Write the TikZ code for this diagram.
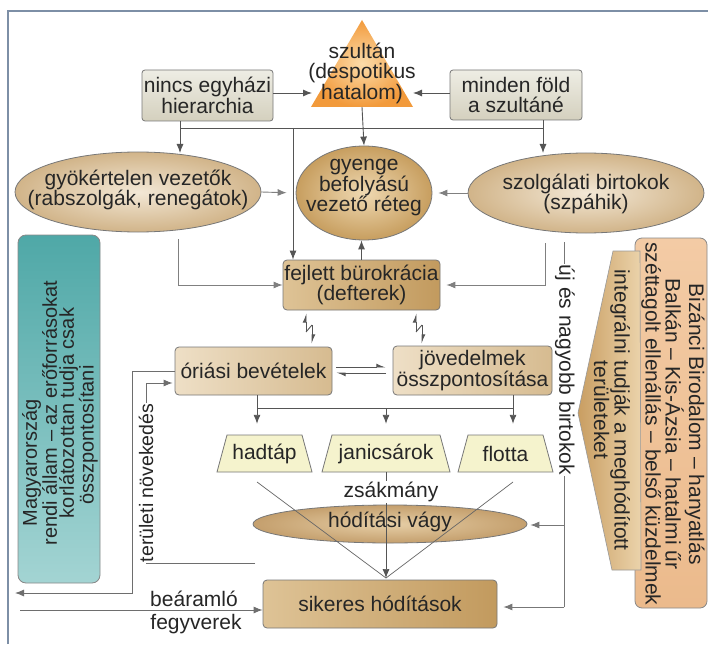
\documentclass[tikz,border=0pt]{standalone}
\usepackage{fontspec}
\setmainfont{Liberation Sans}
\usetikzlibrary{shapes.geometric,arrows.meta}
\definecolor{linec}{HTML}{555555}
\definecolor{txtc}{HTML}{262626}
\definecolor{framec}{HTML}{7D8FA6}
\definecolor{grayT}{HTML}{EEEDE4}
\definecolor{grayB}{HTML}{D4D0BE}
\definecolor{tanLT}{HTML}{EEDFC6}
\definecolor{tanLB}{HTML}{D6BB90}
\definecolor{tanDT}{HTML}{DEC396}
\definecolor{tanDB}{HTML}{C29A5E}
\definecolor{ellIn}{HTML}{F3E8D6}
\definecolor{ellOut}{HTML}{D1B489}
\definecolor{gyIn}{HTML}{EFD9B2}
\definecolor{gyOut}{HTML}{C79E5F}
\definecolor{hoIn}{HTML}{E6CEA6}
\definecolor{hoOut}{HTML}{C49F6D}
\definecolor{trapc}{HTML}{F5F3CD}
\definecolor{tealT}{HTML}{4FA8A7}
\definecolor{tealB}{HTML}{A3D4D3}
\definecolor{peachT}{HTML}{F3CBA5}
\definecolor{peachB}{HTML}{EBBA8C}
\definecolor{ptL}{HTML}{C99E62}
\definecolor{ptR}{HTML}{EBD3AB}
\definecolor{triIn}{HTML}{FCDCAA}
\definecolor{triOut}{HTML}{F29A3B}
\newcommand\fs{\fontsize{21}{20.5}\selectfont}
\begin{document}
\begin{tikzpicture}[x=1pt,y=-1pt,
  txt/.style={font=\fs, align=center, inner sep=0pt, text=txtc},
  ln/.style={draw=linec, line width=0.9pt},
  arr/.style={ln, -{Latex[length=9pt,width=7pt]}},
  hp/.style={ln, -{Latex[harpoon,length=8pt,width=7pt]}},
  graybox/.style={txt, draw=linec!80, line width=0.8pt, rounded corners=3pt, top color=grayT, bottom color=grayB},
  tanlight/.style={txt, draw=linec!80, line width=0.8pt, rounded corners=4pt, left color=tanLT, right color=tanLB},
  tandark/.style={txt, draw=linec!80, line width=0.8pt, rounded corners=4pt, left color=tanDT, right color=tanDB},
  ellbase/.style={ellipse, draw=linec!80, line width=0.8pt, inner sep=0pt},
  trapbox/.style={txt, minimum height=37pt},
  trapfill/.style={draw=linec!80, line width=0.8pt, fill=trapc}
]
\useasboundingbox (0,0) rectangle (708,644);
\fill[white] (0,0) rectangle (708,644);
\draw[framec, line width=1.6pt] (8,644) -- (8,11) -- (708,11);

% top row
\shade[inner color=triIn, outer color=triOut] (362,20) -- (413,107) -- (311,107) -- cycle;
\node[txt] (szultan) at (362,73) {szultán\\(despotikus\\hatalom)};
\coordinate (triL) at (312,93);
\coordinate (triR) at (413,93);
\coordinate (triB) at (362,107);
\node[graybox, minimum width=131pt, minimum height=51pt] (nincs) at (207.5,95.5) {nincs egyházi\\hierarchia};
\node[graybox, minimum width=132pt, minimum height=50pt] (minden) at (516,95) {minden föld\\a szultáné};
\draw[arr] (nincs.east |- triL) -- (triL);
\draw[arr] (minden.west |- triR) -- (triR);

% ellipses
\node[ellbase, inner color=ellIn, outer color=ellOut, minimum width=246pt, minimum height=80pt] (gyok) at (138,192) {};
\node[txt] (gyoktxt) at (138,190) {gyökértelen vezetők\\(rabszolgák, renegátok)};
\node[ellbase, inner color=gyIn, outer color=gyOut, minimum width=136pt, minimum height=94pt] (gyenge) at (364,193) {};
\node[txt] (gyengetxt) at (364,188) {gyenge\\befolyású\\vezető réteg};
\node[ellbase, inner color=ellIn, outer color=ellOut, minimum width=236pt, minimum height=80pt] (szolg) at (586,193) {};
\node[txt] (szolgtxt) at (586,194) {szolgálati birtokok\\(szpáhik)};

% bus under top row
\coordinate (busL) at (180,128);
\coordinate (busM) at (293,128);
\coordinate (busR) at (543,128);
\coordinate (gyokN) at (180,153);
\coordinate (szolgN) at (543,153);
\draw[ln] (busL) -- (busR);
\draw[arr] (nincs.south -| busL) -- (gyokN);
\draw[arr] (minden.south -| busR) -- (szolgN);
\draw[arr] (triB) -- (gyenge.north);
\draw[arr, draw=linec!75] (gyok.east) -- (gyenge.west) [shorten >=9pt];
\draw[arr, draw=linec!75, shorten >=6pt] (szolg.west) -- (gyenge.east);

% bureaucracy
\node[tandark, minimum width=157pt, minimum height=50pt] (burok) at (361.5,285) {fejlett bürokrácia\\(defterek)};
\draw[arr] (busM) -- (busM |- burok.north);
\draw[arr] (burok.north) -- (burok.north |- gyenge.south);
\coordinate (gyokS) at (178,239);
\coordinate (szolgS) at (545,243);
\draw[arr, draw=linec!75] (gyokS) -- (gyokS |- burok.west) -- (burok.west);
\draw[arr, draw=linec!75, shorten >=6pt] (szolgS) -- (szolgS |- burok.east) -- (burok.east);

% revenue boxes
\node[tanlight, minimum width=157pt, minimum height=48pt] (oriasi) at (253.5,371) {óriási bevételek};
\node[tanlight, minimum width=159pt, minimum height=49pt] (jov) at (472.5,370.5) {jövedelmek\\összpontosítása};

% zigzag harpoons
\draw[hp] (306,332) -- (306,313);
\draw[ln] (306,332) -- (312,325);
\draw[hp] (312,325) -- (312,344);
\draw[hp] (416,332) -- (416,313);
\draw[ln] (416,332) -- (422,325);
\draw[hp] (422,325) -- (422,344);
\draw[hp] (336,367) -- (386,367);
\draw[hp] (386,373) -- (336,373);

% trapezia (wider at the bottom)
\path[trapfill] (227,435) -- (302,435) -- (312,472) -- (217,472) -- cycle;
\path[trapfill] (332,435) -- (440,435) -- (450,472) -- (322,472) -- cycle;
\path[trapfill] (468,435) -- (543,435) -- (553,472) -- (458,472) -- cycle;
\node[trapbox, minimum width=95pt] (hadtap) at (264.5,453.5) {hadtáp};
\node[trapbox, minimum width=128pt] (janics) at (386,453.5) {janicsárok};
\node[trapbox, minimum width=95pt] (flotta) at (505.5,453.5) {flotta};
\coordinate (bus2L) at (257,408);
\coordinate (bus2M) at (386,408);
\coordinate (bus2R) at (513,408);
\draw[ln] (bus2L) -- (bus2R);
\draw[arr, shorten >=11pt] (oriasi.south -| bus2L) -- (bus2L |- hadtap.north);
\draw[arr, shorten >=11pt] (bus2M) -- (janics.north);
\draw[arr, shorten >=11pt] (jov.south -| bus2R) -- (bus2R |- flotta.north);

% conquest
\node[ellbase, inner color=hoIn, outer color=hoOut, minimum width=274pt, minimum height=38pt] (hodit) at (390,524) {};
\node[txt] (hodittxt) at (390,522) {hódítási vágy};
\node[tandark, minimum width=234pt, minimum height=48pt] (sikeres) at (380,604) {sikeres hódítások};
\coordinate (conv) at (386,578);
\coordinate (hadS) at (257,482);
\coordinate (flotS) at (513,482);
\draw[ln, line width=0.7pt, draw=linec!90] (hadS) -- (conv);
\draw[ln, line width=0.7pt, draw=linec!90] (flotS) -- (conv);
\draw[arr, line width=0.7pt] (janics.south) -- (conv);
\node[txt, fill=white, inner sep=1pt] (zsak) at (391,492) {zsákmány};

% new estates line
\coordinate (ujTop) at (564,242);
\coordinate (ujMid) at (564,525);
\coordinate (ujBot) at (564,607);
\draw[ln, draw=linec!80] (ujTop) -- (ujBot);
\draw[arr, draw=linec!80, shorten >=3pt] (ujMid) -- (ujMid -| hodit.east);
\draw[arr, draw=linec!80, shorten >=6pt] (ujBot) -- (ujBot -| sikeres.east);
\node[txt, fill=white, inner sep=1pt, rotate=-90] (uj) at (565,370) {új és nagyobb birtokok};

% left side
\node[draw=linec!70, line width=0.8pt, rounded corners=8pt, top color=tealT, bottom color=tealB, minimum width=82pt, minimum height=348pt, inner sep=0pt] (magy) at (59,409) {};
\node[txt, rotate=90, font=\fontsize{20}{17}\selectfont] (magytxt) at (60,413) {Magyarország\rule{100pt}{0pt}\\rendi állam – az erőforrásokat\\korlátozottan tudja csak\\összpontosítani\rule{44pt}{0pt}};
\coordinate (outL) at (132,371);
\coordinate (outB) at (132,593);
\coordinate (outEnd) at (15,593);
\draw[arr, draw=linec!85] (oriasi.west |- outL) -- (outL) -- (outB) -- (outEnd);
\coordinate (terStart) at (255,563);
\coordinate (terCorner) at (146,563);
\coordinate (terTop) at (146,383);
\draw[arr, draw=linec!85] (terStart) -- (terCorner) -- (terTop) -- (terTop -| oriasi.west) [shorten >=2pt];
\node[txt, fill=white, inner sep=1pt, rotate=90, font=\fontsize{19.5}{19.5}\selectfont] (terul) at (146,483) {területi növekedés};
\coordinate (bStart) at (20,610);
\draw[arr, draw=linec!85] (bStart) -- (bStart -| sikeres.west);
\node[txt, anchor=south] (bea) at (194,607) {beáramló};
\node[txt, anchor=north] (fegy) at (196,614) {fegyverek};

% right side
\node[draw=linec!70, line width=0.8pt, rounded corners=7pt, top color=peachT, bottom color=peachB, minimum width=72pt, minimum height=370pt, inner sep=0pt] (biz) at (671,423) {};
\node[txt, rotate=-90, font=\fontsize{21}{20}\selectfont] (biztxt) at (673,424) {Bizánci Birodalom – hanyatlás\\Balkán – Kis-Ázsia – hatalmi űr\\széttagolt ellenállás – belső küzdelmek};
\path[draw=linec!60, line width=0.6pt, left color=ptL, right color=ptR] (613,251) -- (640,251) -- (641,570) -- (612,570) -- (578,413) -- cycle;
\node[txt, rotate=-90, font=\fontsize{21}{18}\selectfont] (integ) at (612,410) {integrálni tudják a meghódított\\területeket};
\end{tikzpicture}
\end{document}
